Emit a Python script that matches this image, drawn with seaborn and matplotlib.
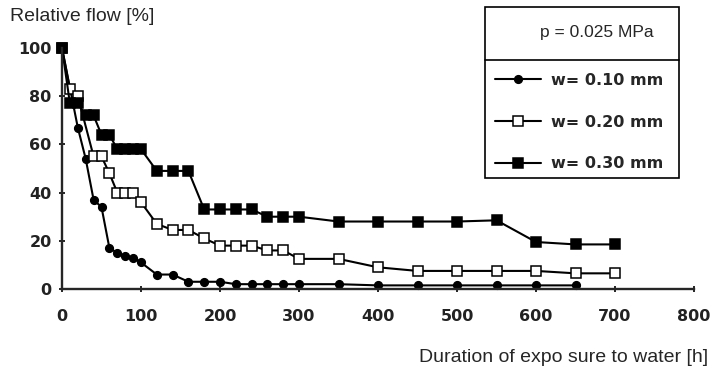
import matplotlib
matplotlib.use("Agg")
import matplotlib.pyplot as plt
import matplotlib.patches as mpatches
import matplotlib.lines as mlines
import pandas as pd
import seaborn as sns

# values
t_010 = [0, 20, 30, 40, 50, 60, 70, 80, 90, 100, 120, 140, 160, 180, 200,
         220, 240, 260, 280, 300, 350, 400, 450, 500, 550, 600, 650]
f_010 = [100, 67, 54, 37, 34, 17, 15, 13.5, 13, 11, 6, 6, 3, 3, 3,
         2, 2, 2, 2, 2, 2, 1.5, 1.5, 1.5, 1.5, 1.5, 1.5]

t_020 = [0, 10, 20, 40, 50, 60, 70, 80, 90, 100, 120, 140, 160, 180, 200,
         220, 240, 260, 280, 300, 350, 400, 450, 500, 550, 600, 650, 700]
f_020 = [100, 83, 80, 55, 55, 48, 40, 40, 40, 36, 27, 24.5, 24.5, 21, 18,
         18, 18, 16, 16, 12.5, 12.5, 9, 7.5, 7.5, 7.5, 7.5, 6.5, 6.5]

t_030 = [0, 10, 20, 30, 40, 50, 60, 70, 80, 90, 100, 120, 140, 160, 180,
         200, 220, 240, 260, 280, 300, 350, 400, 450, 500, 550, 600, 650, 700]
f_030 = [100, 77, 77, 72, 72, 64, 64, 58, 58, 58, 58, 49, 49, 49, 33,
         33, 33, 33, 30, 30, 30, 28, 28, 28, 28, 28.5, 19.5, 18.5, 18.5]

labels = ["w= 0.10 mm", "w= 0.20 mm", "w= 0.30 mm"]
x_ticks = [0, 100, 200, 300, 400, 500, 600, 700, 800]
y_ticks = [0, 20, 40, 60, 80, 100]

sns.set_theme(style="ticks")
plt.rcParams["font.family"] = ["Liberation Sans", "DejaVu Sans"]

fig = plt.figure(figsize=(7.1, 3.72), dpi=100)
ax = fig.add_axes([62 / 710, 83 / 372, 632 / 710, 241 / 372])

series = [(t_010, f_010, "o", "black", 5.5),
          (t_020, f_020, "s", "white", 6.5),
          (t_030, f_030, "s", "black", 7.2)]
for (t, f, mk, fc, ms), lab in zip(series, labels):
    df = pd.DataFrame({"t": t, "flow": f})
    sns.lineplot(data=df, x="t", y="flow", ax=ax, color="black", lw=1.5,
                 marker=mk, markersize=ms, markerfacecolor=fc,
                 markeredgecolor="black", markeredgewidth=1.1,
                 label=lab, clip_on=False, legend=False)

ax.set_xlim(0, 800)
ax.set_ylim(0, 100)
ax.set_xticks(x_ticks)
ax.set_yticks(y_ticks)
ax.set_xlabel("")
ax.set_ylabel("")
sns.despine(ax=ax)
for s in ["left", "bottom"]:
    ax.spines[s].set_linewidth(1.7)
ax.tick_params(axis="both", direction="inout", length=5, width=1.2,
               colors="black")
ax.tick_params(axis="y", pad=5)
ax.tick_params(axis="x", pad=12)
for tl in ax.get_xticklabels() + ax.get_yticklabels():
    tl.set_fontfamily("DejaVu Sans")
    tl.set_fontweight("bold")
    tl.set_fontsize(11.5)
    tl.set_color("#222222")

fig.text(10 / 710, 1 - 8 / 372, "Relative flow [%]", fontsize=14,
         va="top", ha="left")
fig.text(708 / 710, 1 - 358 / 372, "Duration of expo sure to water [h]",
         fontsize=14, va="center", ha="right")

# legend box with header
fig.patches.append(mpatches.Rectangle((485 / 710, 1 - 178 / 372),
                                      194 / 710, 171 / 372,
                                      transform=fig.transFigure,
                                      fill=False, ec="black", lw=1.2))
fig.lines.append(mlines.Line2D([485 / 710, 679 / 710],
                               [1 - 60 / 372, 1 - 60 / 372],
                               transform=fig.transFigure,
                               color="black", lw=1.2))
fig.text(540 / 710, 1 - 33 / 372, "p = 0.025 MPa", fontsize=12.5,
         va="center", ha="left")

handles, labs = ax.get_legend_handles_labels()
leg = ax.legend(handles, labs, loc="upper left",
                bbox_to_anchor=(490 / 710, 1 - 68 / 372),
                bbox_transform=fig.transFigure, frameon=False,
                handlelength=2.9, handletextpad=0.6, labelspacing=1.68,
                borderaxespad=0, borderpad=0.3,
                prop={"family": "DejaVu Sans", "weight": "bold",
                      "size": 11.5})

fig.savefig("out.png", dpi=100, facecolor="white")
